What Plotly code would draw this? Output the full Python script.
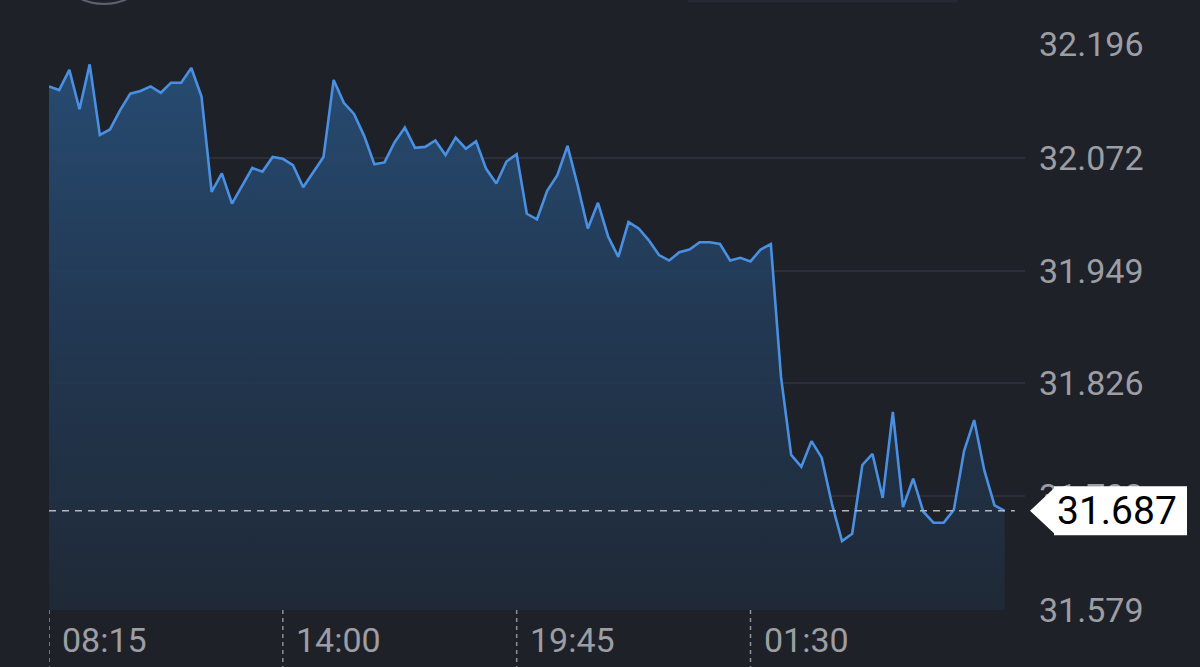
import pandas as pd
import plotly.graph_objects as go


# ============================================================
# Data (15 minute quotes)
# ============================================================

start_time = "2024-05-06 08:15"

prices = [
    32.150, 32.146, 32.168, 32.125, 32.174, 32.097, 32.103, 32.124,
    32.142, 32.145, 32.150, 32.143, 32.154, 32.154, 32.170, 32.139,
    32.035, 32.055, 32.022, 32.041, 32.061, 32.057, 32.073, 32.071,
    32.064, 32.040, 32.056, 32.073, 32.157, 32.132, 32.120, 32.096,
    32.065, 32.067, 32.089, 32.105, 32.083, 32.084, 32.091, 32.075,
    32.094, 32.082, 32.090, 32.060, 32.044, 32.068, 32.076, 32.011,
    32.005, 32.036, 32.053, 32.085, 32.042, 31.995, 32.023, 31.986,
    31.964, 32.002, 31.995, 31.982, 31.966, 31.960, 31.969, 31.972,
    31.980, 31.980, 31.978, 31.960, 31.963, 31.959, 31.972, 31.978,
    31.833, 31.748, 31.735, 31.763, 31.745, 31.695, 31.654, 31.662,
    31.737, 31.749, 31.701, 31.795, 31.691, 31.722, 31.686, 31.674,
    31.674, 31.688, 31.752, 31.786, 31.731, 31.693, 31.687,
]

last_price = 31.687

y_tick_values = [32.196, 32.072, 31.949, 31.826, 31.703, 31.579]
y_tick_labels = ["32.196", "32.072", "31.949", "31.826", "31.703", "31.579"]

x_tick_times = ["2024-05-06 08:15", "2024-05-06 14:00",
                "2024-05-06 19:45", "2024-05-07 01:30"]
x_tick_labels = ["08:15", "14:00", "19:45", "01:30"]

times = pd.date_range(start_time, periods=len(prices), freq="15min")
x_end = pd.Timestamp(start_time) + pd.Timedelta(hours=24)


# ============================================================
# Layout constants
# ============================================================

W, H = 1200, 667
M_L, M_R, M_T, M_B = 49, 175, 44, 57
PLOT_W = W - M_L - M_R
PLOT_H = H - M_T - M_B

BG = "#1f2129"
GRID = "#2c2f38"
LABEL = "#9c9ea4"
LINE = "#4a90e2"
FONT = "Roboto, Inter, 'Open Sans', sans-serif"

y_lo, y_hi = min(y_tick_values), max(y_tick_values)
pad = 0.0002
units_per_px = (y_hi - y_lo + 2 * pad) / PLOT_H


def px_x(p):
    return (p - M_L) / PLOT_W


def px_y(p):
    return (H - M_B - p) / PLOT_H


fig = go.Figure()

# ------------------------------------------------------------
# Price area
# ------------------------------------------------------------

fig.add_trace(
    go.Scatter(
        x=times,
        y=prices,
        mode="lines",
        line=dict(color=LINE, width=2.6),
        fill="tozeroy",
        fillgradient=dict(
            type="vertical",
            colorscale=[[0, "rgba(31,42,56,0.9)"],
                        [0.5, "rgba(34,58,86,0.9)"],
                        [1, "rgba(40,80,122,0.93)"]],
            start=y_lo,
            stop=y_hi,
        ),
        hoverinfo="skip",
        showlegend=False,
    )
)

# ------------------------------------------------------------
# Last price line and label
# ------------------------------------------------------------

fig.add_shape(
    type="line", xref="x", yref="y",
    x0=times[0], x1=times[-1] + pd.Timedelta(minutes=15),
    y0=last_price, y1=last_price,
    line=dict(color="#b3b5ba", width=1.6, dash="7px,6px"),
    layer="above",
)

half_h = 24.5 * units_per_px
fig.add_shape(
    type="path", xref="paper", yref="y",
    path=(f"M {px_x(1030)},{last_price} "
          f"L {px_x(1054)},{last_price + half_h * 0.92} "
          f"L {px_x(1054)},{last_price + half_h} "
          f"L {px_x(1187)},{last_price + half_h} "
          f"L {px_x(1187)},{last_price - half_h} "
          f"L {px_x(1054)},{last_price - half_h} "
          f"L {px_x(1054)},{last_price - half_h * 0.92} Z"),
    fillcolor="white", line=dict(width=0),
    layer="above",
)

fig.add_annotation(
    x=px_x(1054), xref="paper", xanchor="left", xshift=1,
    y=last_price, yref="y", yanchor="middle",
    text=f"{last_price:.3f}",
    showarrow=False,
    font=dict(family=FONT, size=39, color="black"),
)

# ------------------------------------------------------------
# Time axis: dashed markers and labels below the plot
# ------------------------------------------------------------

for t, lab in zip(x_tick_times, x_tick_labels):
    fig.add_shape(
        type="line", xref="x", yref="paper",
        x0=t, x1=t, y0=0, y1=px_y(H + 2),
        line=dict(color="#8e9197", width=1.5, dash="4px,4px"),
    )
    fig.add_annotation(
        x=t, xref="x", xanchor="left", xshift=11,
        y=0, yref="paper", yanchor="middle", yshift=-30,
        text=lab, showarrow=False,
        font=dict(family=FONT, size=34, color=LABEL),
    )

# ------------------------------------------------------------
# Cut-off UI pieces at the top edge
# ------------------------------------------------------------

fig.add_shape(
    type="circle", xref="paper", yref="paper",
    x0=px_x(50), x1=px_x(158), y0=px_y(4), y1=px_y(-104),
    line=dict(color="#5f626a", width=2),
)
fig.add_shape(
    type="rect", xref="paper", yref="paper",
    x0=px_x(688), x1=px_x(958), y0=px_y(2.5), y1=px_y(-30),
    fillcolor="#262932", line=dict(width=0),
)

# ------------------------------------------------------------
# Layout
# ------------------------------------------------------------

fig.update_layout(
    width=W,
    height=H,
    margin=dict(l=M_L, r=M_R, t=M_T, b=M_B),
    paper_bgcolor=BG,
    plot_bgcolor=BG,
    font=dict(family=FONT, color=LABEL),
    showlegend=False,
)

fig.update_xaxes(
    range=[times[0], x_end],
    showgrid=False,
    zeroline=False,
    showticklabels=False,
    ticks="",
)

fig.update_yaxes(
    range=[y_lo - pad, y_hi + pad],
    side="right",
    tickvals=y_tick_values,
    ticktext=y_tick_labels,
    tickfont=dict(family=FONT, size=34, color=LABEL),
    ticklabelstandoff=13,
    showgrid=True,
    gridcolor=GRID,
    gridwidth=2,
    zeroline=False,
    ticks="",
)

# drop the default page margin so the figure sits at the window corner
fig.write_html(
    "out.html",
    config={"displayModeBar": False},
    post_script="document.body.style.margin='0';"
                "document.body.style.background='%s';" % BG,
)
